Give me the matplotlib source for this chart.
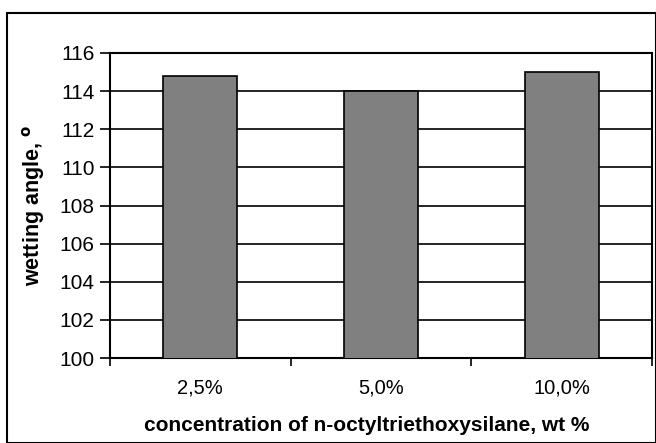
import matplotlib
matplotlib.use("Agg")
import matplotlib.pyplot as plt
from matplotlib.patches import Rectangle
import numpy as np

plt.rcParams['font.family'] = ['Liberation Sans', 'DejaVu Sans']

categories = ['2,5%', '5,0%', '10,0%']
angles = [114.8, 114.0, 115.0]
yticks = [100, 102, 104, 106, 108, 110, 112, 114, 116]

W, H = 656, 443
fig = plt.figure(figsize=(W / 100, H / 100), dpi=100)

# outer chart border
fig.patches.append(Rectangle((7 / W, 0), 1 - 7 / W, 1 - 13 / H, transform=fig.transFigure,
                             fill=False, edgecolor='black', linewidth=1.5))

ax = fig.add_axes([110 / W, 1 - 358 / H, (652 - 110) / W, (358 - 53) / H])

x = np.arange(len(categories))
ax.bar(x, angles, width=0.41, color='#808080', edgecolor='black', linewidth=1.2, zorder=3)

ax.set_xlim(-0.5, len(categories) - 0.5)
ax.set_ylim(100, 116)
ax.set_yticks(yticks)
ax.set_yticklabels([str(v) for v in yticks], fontsize=15)
ax.yaxis.grid(True, color='black', linewidth=1.2, zorder=0)

ax.set_xticks(x)
ax.set_xticklabels(categories, fontsize=14.5)
ax.set_xticks(np.arange(len(categories) + 1) - 0.5, minor=True)
ax.tick_params(axis='x', which='major', length=0, pad=15)
ax.tick_params(axis='x', which='minor', length=6, width=1.2, direction='out')
ax.tick_params(axis='y', length=7, width=1.2, direction='out', pad=4)

for s in ax.spines.values():
    s.set_linewidth(1.5)

ax.set_xlabel('concentration of n-octyltriethoxysilane, wt %', fontsize=15,
              fontweight='bold')
ax.xaxis.set_label_coords(0.474, -0.19)
ax.set_ylabel(r'wetting angle, $\mathbf{^o}$', fontsize=15.5, fontweight='bold', labelpad=9)

fig.savefig('out.png', dpi=100)
